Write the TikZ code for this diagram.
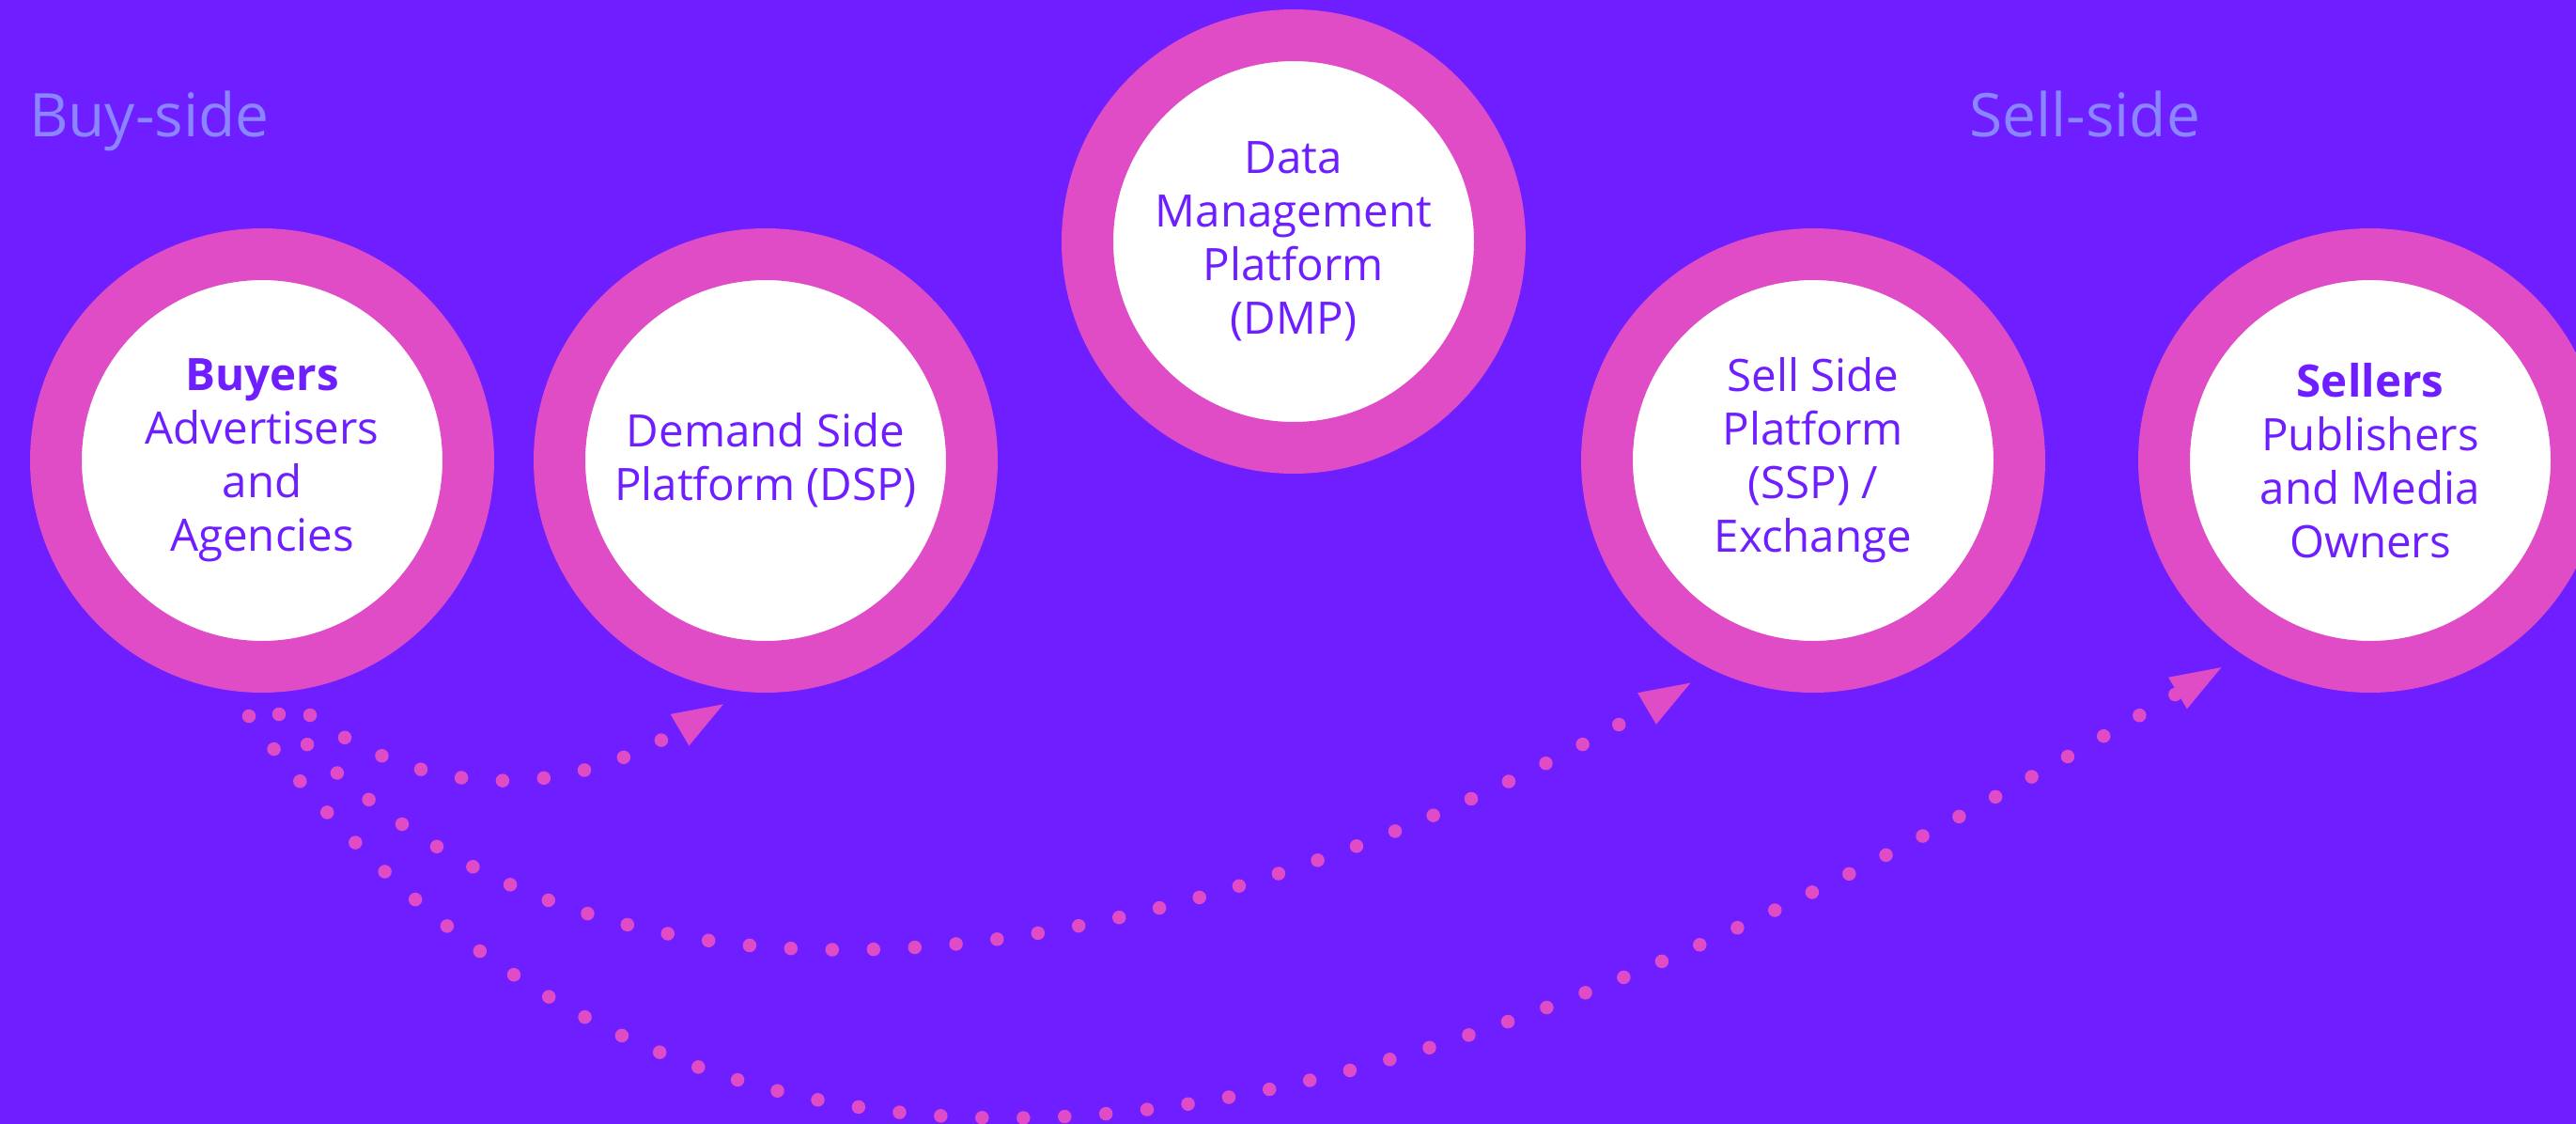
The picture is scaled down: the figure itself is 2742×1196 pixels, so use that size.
\documentclass[tikz,border=0pt]{standalone}
\usepackage{fontspec}
\setmainfont{Open Sans}
\usetikzlibrary{calc}
\definecolor{bgc}{RGB}{110,30,255}
\definecolor{pinkc}{RGB}{223,76,198}
\definecolor{labc}{RGB}{138,134,255}
\begin{document}
\begin{tikzpicture}[x=1pt,y=-1pt,
  ring/.style={circle, draw=pinkc, line width=55pt, fill=white, minimum size=439pt,
    inner sep=0pt, align=center, text=bgc, font=\fontsize{47.5pt}{57pt}\selectfont},
  sidelabel/.style={anchor=base west, text=labc, inner sep=0pt,
    font=\fontsize{64pt}{70pt}\selectfont},
  dotline/.style={draw=pinkc, line width=14.5pt, line cap=round,
    dash pattern=on 0.01pt off 44pt},
  head/.style={fill=pinkc}]
\fill[bgc] (0,0) rectangle (2742,1196);
\clip (0,0) rectangle (2742,1196);
\useasboundingbox (0,0) rectangle (2742,1196);

\node[sidelabel] (buyside) at (31,146) {Buy-side};
\node[sidelabel] (sellside) at (2096,146) {Sell-side};

\node[ring] (buyers) at (279,490) {\textbf{Buyers}\\Advertisers\\and\\Agencies};
\node[ring] (dsp) at (815,490) {Demand Side\\Platform (DSP)};
\node[ring] (dmp) at (1377,257) {Data\\Management\\Platform\\(DMP)};
\node[ring] (ssp) at (1930,490) {Sell Side\\Platform\\(SSP) /\\Exchange};
\node[ring] (sellers) at (2523,490) {\textbf{Sellers}\\Publishers\\and Media\\Owners};

% connector start and end points
\coordinate (sC) at ($(buyers.center)+(-14,272)$);
\coordinate (sB) at ($(buyers.center)+(18,270)$);
\coordinate (sA) at ($(buyers.center)+(51,271)$);
\coordinate (eA) at ($(dsp.center)+(-91.5,286.7)$);
\coordinate (eB) at ($(ssp.center)+(-177,264)$);
\coordinate (eC) at ($(sellers.center)+(-205,247.5)$);

\draw[dotline] (sA) .. controls (451.6,848.8) and (593.9,853) .. (eA);
\draw[dotline] (sB) .. controls (693,1210) and (1408,956) .. (eB);
\draw[dotline] (sC) .. controls (833,1536) and (1715,1091) .. (eC);

\fill[head] ($(eA)+(46.5,-27.4)$) -- ($(eA)+(-9.9,-16.8)$) -- ($(eA)+(9.9,16.8)$) -- cycle;
\fill[head] ($(eB)+(46.5,-27.4)$) -- ($(eB)+(-9.9,-16.8)$) -- ($(eB)+(9.9,16.8)$) -- cycle;
\fill[head] ($(eC)+(46.5,-27.4)$) -- ($(eC)+(-9.9,-16.8)$) -- ($(eC)+(9.9,16.8)$) -- cycle;
\end{tikzpicture}
\end{document}
